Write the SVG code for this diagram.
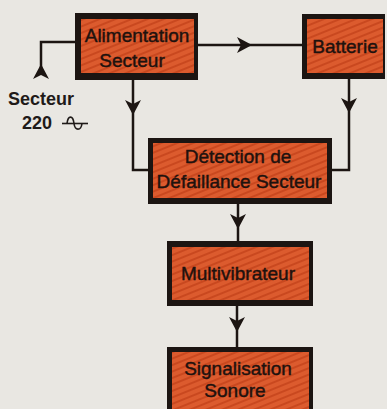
<svg xmlns="http://www.w3.org/2000/svg" width="387" height="409" viewBox="0 0 387 409">
<defs>
<pattern id="stripes" width="6" height="6" patternUnits="userSpaceOnUse" patternTransform="rotate(-22)">
<rect width="6" height="6" fill="#dc5b2e"/>
<rect width="6" height="2" fill="#c9481f"/>
</pattern>
<path id="ahd" d="M0,0 L-8,-15 L0,-11 L8,-15 Z" fill="#1c1512"/>
</defs>
<style>
.sh{fill:#1c1512}
.fill{fill:url(#stripes)}
.t{font-family:"Liberation Sans",Arial,sans-serif;font-size:19px;fill:#1e120e;stroke:#1e120e;stroke-width:0.45;text-anchor:middle}
.lbl{font-family:"Liberation Sans",Arial,sans-serif;font-size:18px;font-weight:bold;fill:#1f1a18}
.ln{fill:none;stroke:#1c1512;stroke-width:2.5}
</style>
<rect width="387" height="409" fill="#e9e7e2"/>

<g id="connectors">
<path class="ln" d="M76,42 H41 V70"/>
<use href="#ahd" transform="translate(41,64) rotate(180)"/>
<path class="ln" d="M198,45 H302"/>
<use href="#ahd" transform="translate(252,45) rotate(-90)"/>
<path class="ln" d="M133,80 V170 H149"/>
<use href="#ahd" transform="translate(133,115)"/>
<path class="ln" d="M349,79 V170 H332"/>
<use href="#ahd" transform="translate(349,113)"/>
<path class="ln" d="M238,204 V241"/>
<use href="#ahd" transform="translate(238,229)"/>
<path class="ln" d="M237,306 V347"/>
<use href="#ahd" transform="translate(237,332)"/>
</g>

<g id="secteur-label">
<text class="lbl" x="8" y="105">Secteur</text>
<text class="lbl" x="22" y="129">220</text>
<path d="M62,123.5 H88" fill="none" stroke="#1f1a18" stroke-width="1.6"/>
<path d="M67,123.5 C68,115 73,115 74,123.5 C75,131 81,131 82,123.5" fill="none" stroke="#1f1a18" stroke-width="1.6"/>
</g>

<g id="alimentation">
<rect class="sh" x="75" y="13" width="123" height="67"/>
<rect class="fill" x="81" y="19" width="113" height="54"/>
<text class="t" x="137" y="42">Alimentation</text>
<text class="t" x="132" y="67">Secteur</text>
</g>

<g id="batterie">
<rect class="sh" x="302" y="14" width="83" height="65"/>
<rect class="fill" x="307" y="19" width="76" height="54"/>
<text class="t" x="345" y="53">Batterie</text>
</g>

<g id="detection">
<rect class="sh" x="148" y="138" width="184" height="66"/>
<rect class="fill" x="153" y="143" width="174" height="55"/>
<text class="t" x="238" y="163">Détection de</text>
<text class="t" x="239" y="188">Défaillance Secteur</text>
</g>

<g id="multivibrateur">
<rect class="sh" x="167" y="241" width="146" height="65"/>
<rect class="fill" x="172" y="247" width="137" height="53"/>
<text class="t" x="238" y="280">Multivibrateur</text>
</g>

<g id="signalisation">
<rect class="sh" x="167" y="347" width="146" height="66"/>
<rect class="fill" x="172" y="352" width="137" height="57"/>
<text class="t" x="238" y="375">Signalisation</text>
<text class="t" x="235" y="397">Sonore</text>
</g>
</svg>
